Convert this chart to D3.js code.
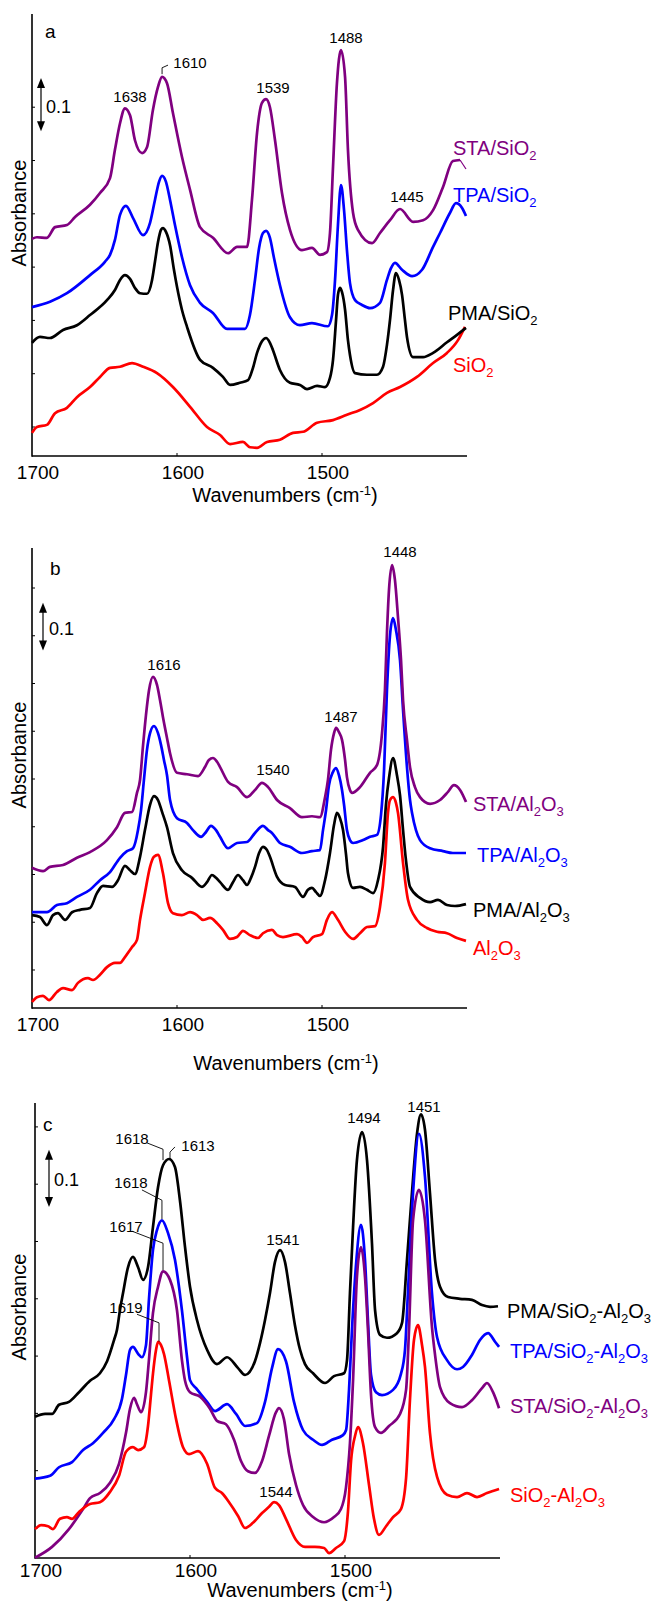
<!DOCTYPE html>
<html><head><meta charset="utf-8">
<script src="https://cdn.jsdelivr.net/npm/d3@7"></script>
<style>body{margin:0;background:#fff}svg{display:block}text{font-family:"Liberation Sans",Arial,sans-serif}</style>
</head><body>
<svg id="chart" width="658" height="1601"></svg>
<script>
// ---------------- DATA (wavenumber cm-1, absorbance) ----------------
const xTicks = [1700, 1600, 1500];
const yTicksA = [0, 0.1, 0.2, 0.3, 0.4, 0.5, 0.6];
const yTicksB = [0, 0.1, 0.2, 0.3, 0.4, 0.5, 0.6, 0.7, 0.8];
const yTicksC = [0, 0.1, 0.2, 0.3, 0.4, 0.5, 0.6, 0.7];

// Panel a
const staSiO2 = [[1700,0.353],[1696.6,0.356],[1689.7,0.355],[1684.1,0.375],[1675.9,0.379],[1670.3,0.394],[1660,0.417],[1653.1,0.439],[1646.2,0.467],[1642.8,0.520],[1639.3,0.570],[1635.9,0.598],[1632.4,0.585],[1629,0.538],[1624.1,0.514],[1620.7,0.525],[1616.6,0.595],[1613.1,0.638],[1610.3,0.657],[1606.9,0.645],[1602.8,0.589],[1596.6,0.507],[1591,0.445],[1584.1,0.375],[1575.2,0.355],[1564.8,0.326],[1558.6,0.338],[1551.7,0.338],[1548.3,0.426],[1544.8,0.552],[1541.4,0.608],[1538.6,0.615],[1535.9,0.600],[1532.4,0.538],[1527.6,0.439],[1522.1,0.370],[1513.8,0.332],[1506.9,0.336],[1501.4,0.323],[1496.6,0.328],[1494.5,0.364],[1492.4,0.488],[1489.7,0.645],[1486.9,0.707],[1484.1,0.657],[1482.1,0.520],[1478.6,0.402],[1475.2,0.370],[1465.5,0.345],[1460,0.364],[1453.1,0.388],[1446.2,0.409],[1437.2,0.385],[1430.3,0.388],[1423.4,0.407],[1416.6,0.450],[1409.7,0.499],[1404.8,0.501],[1400.7,0.484]];
const tpaSiO2 = [[1700,0.225],[1687.6,0.235],[1675.9,0.251],[1660,0.285],[1649.7,0.310],[1646.2,0.323],[1642.8,0.351],[1639.3,0.398],[1635.2,0.415],[1630.3,0.392],[1623.4,0.360],[1618.6,0.383],[1615.2,0.426],[1612.4,0.460],[1610.3,0.471],[1607.6,0.460],[1604.8,0.426],[1601.4,0.379],[1596.6,0.319],[1591,0.266],[1584.1,0.233],[1575.2,0.214],[1565.5,0.184],[1553.1,0.184],[1549.7,0.210],[1546.2,0.276],[1543.4,0.336],[1540.7,0.364],[1538.6,0.368],[1535.9,0.355],[1533.1,0.317],[1529,0.266],[1522.1,0.206],[1515.2,0.191],[1506.9,0.195],[1495.9,0.189],[1493.1,0.210],[1491,0.276],[1489,0.379],[1486.9,0.454],[1484.8,0.407],[1482.8,0.332],[1480.7,0.270],[1477.2,0.238],[1472.4,0.229],[1466.9,0.223],[1460,0.233],[1455.2,0.276],[1452.4,0.298],[1449.7,0.308],[1444.8,0.295],[1437.9,0.283],[1431,0.295],[1423.4,0.338],[1418.6,0.364],[1411.7,0.402],[1407.6,0.420],[1403.4,0.411],[1400.7,0.396]];
const pmaSiO2 = [[1700,0.158],[1694.5,0.169],[1687.6,0.167],[1678.6,0.182],[1669,0.191],[1660,0.210],[1648.3,0.238],[1642.8,0.257],[1639.3,0.276],[1635.9,0.285],[1632.4,0.278],[1629,0.261],[1625.5,0.251],[1620.7,0.250],[1617.2,0.276],[1615.2,0.310],[1613.1,0.347],[1611,0.370],[1609.7,0.373],[1607.6,0.366],[1604.8,0.341],[1602.1,0.295],[1600,0.263],[1596.6,0.220],[1593.1,0.188],[1584.1,0.126],[1575.2,0.111],[1568.3,0.094],[1563.4,0.079],[1556.6,0.083],[1551,0.088],[1547.6,0.111],[1544.8,0.139],[1541.4,0.161],[1538.6,0.167],[1535.9,0.158],[1533.8,0.144],[1529,0.107],[1522.1,0.083],[1515.2,0.079],[1510.3,0.071],[1503.4,0.077],[1497.9,0.075],[1494.5,0.092],[1492.4,0.126],[1490.3,0.201],[1489,0.248],[1487.6,0.261],[1486.2,0.253],[1484.1,0.220],[1482.1,0.163],[1480.7,0.135],[1477.2,0.101],[1469,0.098],[1462.1,0.098],[1457.9,0.113],[1455.2,0.154],[1453.1,0.201],[1451,0.257],[1449,0.289],[1446.9,0.276],[1444.8,0.248],[1442.8,0.201],[1441.4,0.169],[1437.2,0.131],[1430.3,0.131],[1423.4,0.139],[1413.8,0.159],[1406.9,0.173],[1400.7,0.186]];
const siO2 = [[1700,-0.011],[1696.6,0],[1689.7,0.004],[1684.1,0.026],[1675.9,0.036],[1669,0.056],[1660,0.075],[1653.1,0.094],[1646.2,0.111],[1639.3,0.113],[1631,0.120],[1623.4,0.113],[1613.8,0.101],[1602.8,0.075],[1591,0.038],[1579.3,0],[1570.3,-0.015],[1563.4,-0.032],[1554.5,-0.028],[1549.7,-0.038],[1544.8,-0.039],[1537.9,-0.028],[1529,-0.024],[1520,-0.011],[1513.1,-0.009],[1503.4,0.008],[1492.4,0.013],[1482.8,0.023],[1473.8,0.032],[1464.8,0.045],[1455.2,0.064],[1446.2,0.075],[1434.5,0.094],[1423.4,0.120],[1413.8,0.139],[1406.2,0.163],[1401.4,0.188]];

// Panel b
const staAl2O3 = [[1700,0.214],[1692.4,0.207],[1687.6,0.216],[1678.6,0.220],[1669,0.235],[1660,0.247],[1648.3,0.272],[1641.4,0.299],[1635.9,0.329],[1631,0.331],[1627.6,0.371],[1625.5,0.398],[1623.4,0.471],[1621.4,0.534],[1619.3,0.586],[1616.6,0.614],[1613.8,0.597],[1611.7,0.565],[1609.7,0.530],[1606.9,0.486],[1604.8,0.454],[1600,0.413],[1593.1,0.410],[1585.5,0.406],[1580.7,0.425],[1578,0.440],[1575.2,0.444],[1572.4,0.436],[1570.3,0.425],[1564.8,0.394],[1558.6,0.383],[1551.7,0.362],[1546.2,0.377],[1541.4,0.392],[1537.2,0.383],[1531,0.356],[1522.1,0.339],[1513.8,0.320],[1506.9,0.322],[1501.4,0.320],[1497.9,0.362],[1495.9,0.398],[1493.8,0.461],[1491.7,0.496],[1490.3,0.507],[1488.3,0.498],[1486.2,0.482],[1484.1,0.440],[1482.8,0.404],[1480.7,0.377],[1479.3,0.371],[1473.8,0.383],[1466.9,0.413],[1462.1,0.429],[1458.6,0.496],[1456.6,0.586],[1455.2,0.706],[1453.8,0.796],[1451.7,0.848],[1449.7,0.817],[1447.6,0.739],[1445.5,0.649],[1444.1,0.565],[1441.4,0.482],[1439.3,0.425],[1435.9,0.383],[1432.4,0.362],[1425.5,0.348],[1418.6,0.356],[1413.1,0.373],[1409,0.387],[1404.8,0.377],[1400.7,0.352]];
const tpaAl2O3 = [[1700,0.121],[1689.7,0.121],[1682.8,0.136],[1675.9,0.140],[1669,0.153],[1660,0.168],[1653.1,0.188],[1646.2,0.205],[1639.3,0.235],[1634.5,0.249],[1630.3,0.255],[1626.9,0.293],[1624.8,0.335],[1622.8,0.398],[1620.7,0.461],[1618.6,0.496],[1615.9,0.511],[1613.1,0.496],[1611,0.471],[1609,0.440],[1606.9,0.408],[1604.8,0.356],[1600,0.318],[1593.1,0.308],[1589,0.293],[1583.4,0.279],[1580,0.289],[1576.6,0.302],[1573.1,0.293],[1570.3,0.279],[1564.8,0.255],[1558.6,0.266],[1551.7,0.268],[1546.2,0.287],[1540.7,0.302],[1537.2,0.293],[1534.5,0.287],[1529,0.266],[1522.1,0.258],[1513.8,0.245],[1506.9,0.249],[1501.4,0.251],[1499.3,0.293],[1497.2,0.335],[1495.2,0.387],[1492.4,0.415],[1490.3,0.423],[1488.3,0.408],[1486.2,0.377],[1484.8,0.346],[1482.8,0.293],[1480.7,0.272],[1478.6,0.266],[1471.7,0.272],[1466.9,0.279],[1462.1,0.283],[1459.3,0.325],[1457.2,0.419],[1455.2,0.586],[1453.1,0.701],[1451,0.737],[1449,0.712],[1446.2,0.649],[1444.1,0.544],[1441.4,0.425],[1439.3,0.356],[1437.9,0.329],[1435.2,0.293],[1432.4,0.272],[1425.5,0.255],[1416.6,0.249],[1409.7,0.245],[1400.7,0.245]];
const pmaAl2O3 = [[1700,0.115],[1694.5,0.111],[1689.7,0.094],[1685.5,0.115],[1682.1,0.119],[1677.2,0.105],[1672.4,0.121],[1666.9,0.126],[1660,0.130],[1655.2,0.161],[1651,0.176],[1644.8,0.174],[1640.7,0.188],[1635.9,0.218],[1632.4,0.209],[1629,0.201],[1625.5,0.237],[1622.1,0.293],[1618.6,0.346],[1615.9,0.364],[1613.1,0.356],[1610.3,0.331],[1606.9,0.299],[1602.8,0.245],[1596.6,0.209],[1589.7,0.193],[1582.8,0.174],[1579.3,0.184],[1575.9,0.199],[1573.1,0.193],[1570.3,0.184],[1564.8,0.168],[1561.4,0.184],[1557.9,0.199],[1554.5,0.188],[1551.7,0.178],[1549,0.193],[1546.2,0.216],[1543.4,0.245],[1540.7,0.258],[1537.9,0.251],[1535.9,0.237],[1531,0.195],[1525.5,0.178],[1518.6,0.174],[1513.1,0.153],[1509.7,0.168],[1506.9,0.172],[1504.1,0.163],[1501.4,0.155],[1497.9,0.188],[1494.5,0.245],[1491.7,0.304],[1489.7,0.329],[1487.6,0.318],[1485.5,0.293],[1483.4,0.241],[1482.1,0.203],[1478.6,0.172],[1473.8,0.174],[1469,0.168],[1464.8,0.161],[1461.4,0.188],[1457.9,0.258],[1455.9,0.346],[1453.8,0.402],[1451,0.444],[1448.3,0.408],[1446.2,0.366],[1444.1,0.293],[1442.1,0.230],[1439.3,0.174],[1432.4,0.151],[1425.5,0.142],[1420,0.147],[1413.8,0.136],[1408.3,0.134],[1400.7,0.138]];
const al2O3 = [[1700,-0.067],[1696.6,-0.057],[1692.4,-0.054],[1688.3,-0.063],[1682.8,-0.046],[1678.6,-0.038],[1672.4,-0.042],[1668.3,-0.027],[1661.4,-0.017],[1657.9,-0.021],[1653.1,-0.010],[1648.3,0.006],[1642.8,0.015],[1639.3,0.015],[1635.9,0.027],[1631,0.048],[1627.6,0.063],[1625.5,0.105],[1622.1,0.161],[1618.6,0.216],[1615.9,0.237],[1613.1,0.241],[1609.7,0.203],[1606.2,0.140],[1602.8,0.119],[1596.6,0.115],[1591,0.121],[1586.2,0.115],[1582.1,0.105],[1577.2,0.109],[1572.4,0.098],[1568.3,0.084],[1563.4,0.065],[1558.6,0.069],[1554.5,0.082],[1549.7,0.073],[1544.1,0.067],[1540.7,0.077],[1534.5,0.084],[1531,0.073],[1526.9,0.069],[1517.2,0.075],[1513.8,0.069],[1510.3,0.057],[1506.2,0.069],[1500,0.075],[1496.6,0.105],[1493.1,0.121],[1489,0.105],[1484.1,0.080],[1478.6,0.065],[1473.8,0.077],[1469,0.090],[1463.4,0.092],[1460,0.132],[1456.6,0.224],[1454.5,0.329],[1453.1,0.356],[1451,0.362],[1449,0.350],[1447.6,0.329],[1444.1,0.224],[1440.7,0.147],[1434.5,0.105],[1427.6,0.088],[1420.7,0.080],[1413.8,0.077],[1406.9,0.067],[1400.7,0.061]];

// Panel c
const pmaSiAl = [[1700,0.194],[1693.5,0.199],[1689,0.199],[1684.5,0.215],[1678.1,0.220],[1671.6,0.237],[1664.5,0.257],[1658.1,0.270],[1653.5,0.291],[1649,0.328],[1647.1,0.346],[1645.2,0.380],[1643.2,0.410],[1640,0.455],[1636.8,0.473],[1633.5,0.455],[1630.3,0.433],[1627.1,0.455],[1623.9,0.525],[1620.6,0.595],[1617.4,0.633],[1613.5,0.644],[1609.7,0.630],[1606.5,0.572],[1603.2,0.490],[1600,0.421],[1595.5,0.363],[1589,0.311],[1582.6,0.286],[1576.1,0.298],[1569,0.279],[1564.5,0.267],[1558.1,0.291],[1554.8,0.323],[1551.6,0.363],[1548.4,0.410],[1545.2,0.464],[1541.9,0.485],[1538.7,0.464],[1535.5,0.410],[1532.3,0.354],[1529,0.311],[1525.8,0.286],[1520.6,0.270],[1512.9,0.253],[1507.1,0.265],[1500.6,0.270],[1498.7,0.293],[1496.8,0.410],[1494.8,0.525],[1492.3,0.642],[1489,0.691],[1485.8,0.642],[1482.6,0.497],[1480.6,0.380],[1477.4,0.337],[1472.9,0.332],[1466.5,0.340],[1463.2,0.358],[1460,0.468],[1456.8,0.585],[1453.5,0.689],[1451,0.722],[1448.4,0.695],[1445.2,0.585],[1441.9,0.468],[1438.7,0.421],[1433.5,0.403],[1425.8,0.400],[1418.1,0.398],[1411.6,0.389],[1406.4,0.386],[1401.3,0.387]];
const tpaSiAl = [[1700,0.086],[1690.3,0.091],[1684.5,0.106],[1676.1,0.115],[1669,0.136],[1662.6,0.148],[1656.1,0.166],[1649,0.190],[1643.9,0.225],[1641.3,0.267],[1638.7,0.311],[1636.8,0.316],[1633.5,0.304],[1631,0.298],[1628.4,0.319],[1626.5,0.398],[1623.9,0.485],[1621.3,0.520],[1618.1,0.537],[1614.2,0.515],[1609.7,0.468],[1605.2,0.380],[1601.9,0.298],[1600,0.258],[1596.1,0.244],[1589,0.220],[1583.9,0.204],[1576.1,0.216],[1570.3,0.199],[1564.5,0.178],[1556.8,0.183],[1551.6,0.220],[1547.1,0.279],[1543.2,0.312],[1538.1,0.291],[1532.9,0.220],[1527.1,0.171],[1520.6,0.154],[1514.8,0.145],[1508.4,0.154],[1501.3,0.162],[1499.3,0.171],[1497.4,0.241],[1495.5,0.346],[1492.9,0.459],[1489.7,0.529],[1487.1,0.468],[1485.2,0.363],[1483.2,0.267],[1480,0.237],[1476.1,0.232],[1469,0.241],[1463.9,0.269],[1461.3,0.311],[1459.4,0.410],[1456.1,0.585],[1452.3,0.688],[1448.4,0.613],[1443.9,0.410],[1440.6,0.333],[1434.2,0.293],[1427.7,0.277],[1423.9,0.281],[1418.1,0.302],[1412.9,0.328],[1407.7,0.340],[1403.2,0.325],[1400.6,0.316]];
const staSiAl = [[1700,-0.052],[1689,-0.033],[1678.1,-0.002],[1669,0.033],[1664.5,0.052],[1658.1,0.061],[1651.6,0.079],[1645.8,0.112],[1641.3,0.166],[1638.7,0.208],[1636.1,0.227],[1634.2,0.216],[1631.6,0.202],[1628.4,0.237],[1626.5,0.293],[1623.9,0.375],[1620.6,0.421],[1617.4,0.448],[1612.9,0.433],[1608.4,0.380],[1605.2,0.293],[1603.2,0.257],[1600,0.237],[1593.5,0.229],[1587.1,0.208],[1582.6,0.187],[1576.8,0.181],[1571.6,0.154],[1567.1,0.117],[1562.6,0.099],[1558.1,0.096],[1553.5,0.117],[1549,0.161],[1544.5,0.202],[1542.6,0.209],[1539.4,0.190],[1536.1,0.129],[1531.6,0.075],[1527.1,0.040],[1520.6,0.019],[1513.5,0.010],[1507.1,0.019],[1502.6,0.033],[1499.4,0.070],[1496.8,0.148],[1494.8,0.258],[1492.3,0.438],[1489.7,0.490],[1487.1,0.438],[1485.2,0.346],[1483.2,0.232],[1480.6,0.176],[1476.8,0.166],[1471.6,0.178],[1464.5,0.199],[1460.6,0.241],[1458.7,0.346],[1456.1,0.537],[1452.3,0.590],[1448.4,0.537],[1443.9,0.351],[1441.9,0.302],[1438.7,0.246],[1432.3,0.218],[1424.5,0.211],[1418.1,0.223],[1411.6,0.244],[1408.4,0.253],[1404.5,0.237],[1400.6,0.209]];
const siAl = [[1700,-0.002],[1696.1,0.005],[1691.6,0.003],[1688.4,-0.002],[1683.9,0.016],[1679.4,0.019],[1676.1,0.016],[1671.6,0.028],[1664.5,0.042],[1658.1,0.045],[1651.6,0.063],[1645.8,0.091],[1641.3,0.133],[1636.8,0.141],[1633.5,0.136],[1629.7,0.141],[1627.1,0.178],[1625.2,0.232],[1623.9,0.269],[1621.9,0.311],[1620.6,0.325],[1618.7,0.319],[1616.8,0.304],[1613.5,0.257],[1609,0.190],[1604.5,0.141],[1600.6,0.129],[1594.8,0.134],[1589,0.112],[1583.9,0.070],[1579.4,0.061],[1574.8,0.045],[1569,0.021],[1564.5,0],[1559.4,0.009],[1553.5,0.026],[1549,0.037],[1545.8,0.045],[1542.6,0.040],[1538.1,0.016],[1531.6,-0.021],[1525.8,-0.033],[1519.4,-0.033],[1513.5,-0.035],[1510.3,-0.044],[1505.8,-0.035],[1500.6,-0.023],[1498.1,0.028],[1496.1,0.117],[1493.5,0.161],[1491.6,0.176],[1488.4,0.148],[1484.5,0.075],[1481.3,0.016],[1478.1,-0.012],[1473.5,0.003],[1469,0.019],[1463.9,0.033],[1460.6,0.087],[1458.1,0.223],[1455.5,0.328],[1452.9,0.354],[1450.3,0.319],[1448.4,0.281],[1445.2,0.166],[1440.6,0.089],[1434.2,0.058],[1427.7,0.054],[1421.3,0.061],[1414.8,0.054],[1408.4,0.061],[1400.6,0.068]];

// peak leader lines (wavenumber, absorbance)
const leadersA = [[[1610.3,0.662],[1610.3,0.674],[1606.2,0.679]]];
const leadersC = [
  [[1627.7,0.672],[1617.4,0.661],[1617.4,0.642]],
  [[1612.9,0.642],[1612.9,0.656],[1609.7,0.665]],
  [[1631,0.590],[1618.1,0.572],[1618.1,0.539]],
  [[1637.4,0.518],[1617.4,0.497],[1617.4,0.450]],
  [[1634.2,0.373],[1620,0.358],[1620,0.325]]
];
// scale bar (absorbance at top of 0.1 arrow)
const scaleBarTop = {a: 0.655, b: 0.769, c: 0.660};

// ---------------- STYLE / LAYOUT ----------------
const COL = {purple:'#800080', blue:'#0000ff', black:'#000000', red:'#ff0000'};
const FONT_SERIES = 20, FONT_PEAK = 15, FONT_TICK = 19, FONT_TITLE = 20;

const panels = [
  { key:'a', xr:[32,467], yr:[456,14], yd:[-0.0544,0.7749], yTicks:yTicksA, tickDy:23,
    series:[{d:siO2,c:'red'},{d:pmaSiO2,c:'black'},{d:tpaSiO2,c:'blue'},{d:staSiO2,c:'purple',thinBelow:1404.8}],
    labels:[{p:[['STA/SiO',0],['2',1]],x:453,y:155,c:'purple'},{p:[['TPA/SiO',0],['2',1]],x:453,y:202,c:'blue'},
            {p:[['PMA/SiO',0],['2',1]],x:448,y:320,c:'black'},{p:[['SiO',0],['2',1]],x:453,y:372,c:'red'}],
    peaks:[['1638',130,102],['1610',190,68],['1539',273,93],['1488',346,43],['1445',407,202]],
    leaders:leadersA, arrowX:41, numX:46, numY:113, letter:['a',45,38],
    ylabY:213, xtitle:[285,502] },
  { key:'b', xr:[32,467], yr:[1008,548], yd:[-0.0796,0.8838], yTicks:yTicksB, tickDy:23,
    series:[{d:al2O3,c:'red'},{d:pmaAl2O3,c:'black'},{d:tpaAl2O3,c:'blue'},{d:staAl2O3,c:'purple'}],
    labels:[{p:[['STA/Al',0],['2',1],['O',0],['3',1]],x:473,y:811,c:'purple'},{p:[['TPA/Al',0],['2',1],['O',0],['3',1]],x:477,y:862,c:'blue'},
            {p:[['PMA/Al',0],['2',1],['O',0],['3',1]],x:473,y:917,c:'black'},{p:[['Al',0],['2',1],['O',0],['3',1]],x:473,y:955,c:'red'}],
    peaks:[['1616',164,670],['1540',273,775],['1487',341,722],['1448',400,557]],
    leaders:[], arrowX:43, numX:49, numY:635, letter:['b',50,575],
    ylabY:755, xtitle:[286,1070] },
  { key:'c', xr:[35,500], yr:[1558,1103], yd:[-0.0524,0.7417], yTicks:yTicksC, tickDy:19,
    series:[{d:pmaSiAl,c:'black'},{d:tpaSiAl,c:'blue'},{d:staSiAl,c:'purple'},{d:siAl,c:'red'}],
    labels:[{p:[['PMA/SiO',0],['2',1],['-Al',0],['2',1],['O',0],['3',1]],x:507,y:1318,c:'black'},
            {p:[['TPA/SiO',0],['2',1],['-Al',0],['2',1],['O',0],['3',1]],x:510,y:1358,c:'blue'},
            {p:[['STA/SiO',0],['2',1],['-Al',0],['2',1],['O',0],['3',1]],x:510,y:1413,c:'purple'},
            {p:[['SiO',0],['2',1],['-Al',0],['2',1],['O',0],['3',1]],x:510,y:1502,c:'red'}],
    peaks:[['1618',132,1144],['1613',198,1151],['1618',131,1188],['1617',126,1232],['1619',126,1313],
           ['1541',283,1245],['1494',364,1123],['1451',424,1112],['1544',276,1497]],
    leaders:leadersC, arrowX:49, numX:54, numY:1186, letter:['c',43,1131],
    ylabY:1307, xtitle:[300,1597] }
];

const svg = d3.select('#chart');
svg.append('rect').attr('width',658).attr('height',1601).attr('fill','#fff');

function rich(sel, parts, size){
  let shift = 0;
  parts.forEach(([t, s]) => {
    const target = s === 1 ? 5 : (s === -1 ? -7 : 0);
    sel.append('tspan').attr('dy', target - shift).attr('font-size', s ? size*0.65 : size).text(t);
    shift = target;
  });
}

panels.forEach(P => {
  const g = svg.append('g');
  const x = d3.scaleLinear().domain([1700,1400]).range(P.xr);
  const y = d3.scaleLinear().domain(P.yd).range(P.yr);
  const [yBot, yTop] = P.yr;
  const x0 = P.xr[0];

  // axes lines
  g.append('line').attr('x1',x0).attr('x2',x0).attr('y1',yTop).attr('y2',yBot+0.75)
    .attr('stroke','#000').attr('stroke-width',1.6);
  g.append('line').attr('x1',x0).attr('x2',x(1400)).attr('y1',yBot).attr('y2',yBot)
    .attr('stroke','#000').attr('stroke-width',1.5);
  // y ticks (inward)
  g.selectAll('.yt').data(P.yTicks).enter().append('line')
    .attr('x1',x0).attr('x2',x0+3).attr('y1',d=>y(d)).attr('y2',d=>y(d))
    .attr('stroke','#000').attr('stroke-width',1);
  // x ticks (inward) and labels
  g.selectAll('.xt').data(xTicks.slice(1)).enter().append('line')
    .attr('x1',d=>x(d)).attr('x2',d=>x(d)).attr('y1',yBot).attr('y2',yBot-3)
    .attr('stroke','#000').attr('stroke-width',1);
  g.selectAll('.xl').data(xTicks).enter().append('text')
    .attr('x',d=>x(d)+6).attr('y',yBot+P.tickDy).attr('text-anchor','middle')
    .attr('font-size',FONT_TICK).attr('fill','#000').text(d=>d);

  // x title
  const xt = g.append('text').attr('x',P.xtitle[0]).attr('y',P.xtitle[1]).attr('text-anchor','middle').attr('fill','#000');
  rich(xt, [['Wavenumbers (cm',0],['-1',-1],[')',0]], FONT_TITLE);
  // y title
  g.append('text').attr('transform',`translate(26,${P.ylabY}) rotate(-90)`).attr('text-anchor','middle')
    .attr('font-size',FONT_TITLE).attr('fill','#000').text('Absorbance');

  // panel letter
  g.append('text').attr('x',P.letter[1]).attr('y',P.letter[2]).attr('font-size',19).attr('fill','#000').text(P.letter[0]);

  // scale bar arrow 0.1
  const t = scaleBarTop[P.key];
  const ya = y(t), yb = y(t-0.1), ax = P.arrowX;
  g.append('line').attr('x1',ax).attr('x2',ax).attr('y1',ya+6).attr('y2',yb-6).attr('stroke','#000').attr('stroke-width',1.2);
  g.append('path').attr('d',`M${ax},${ya}L${ax-4},${ya+10}L${ax+4},${ya+10}Z`).attr('fill','#000');
  g.append('path').attr('d',`M${ax},${yb}L${ax-4},${yb-10}L${ax+4},${yb-10}Z`).attr('fill','#000');
  g.append('text').attr('x',P.numX).attr('y',P.numY).attr('font-size',18).attr('fill','#000').text('0.1');

  // spectra
  const line = d3.line().x(d=>x(d[0])).y(d=>y(d[1])).curve(d3.curveMonotoneX);
  P.series.forEach(s => {
    if (s.thinBelow) {
      g.append('path').datum(s.d.filter(d=>d[0]>=s.thinBelow)).attr('d',line)
        .attr('fill','none').attr('stroke',COL[s.c]).attr('stroke-width',2.7).attr('stroke-linejoin','round');
      g.append('path').datum(s.d.filter(d=>d[0]<=s.thinBelow)).attr('d',line)
        .attr('fill','none').attr('stroke',COL[s.c]).attr('stroke-width',1.2);
    } else {
      g.append('path').datum(s.d).attr('d',line)
        .attr('fill','none').attr('stroke',COL[s.c]).attr('stroke-width',2.7).attr('stroke-linejoin','round');
    }
  });

  // leaders
  const lline = d3.line().x(d=>x(d[0])).y(d=>y(d[1]));
  P.leaders.forEach(L => {
    g.append('path').attr('d',lline(L)).attr('fill','none').attr('stroke','#000').attr('stroke-width',0.9);
  });

  // peak labels
  P.peaks.forEach(([txt,px,py]) => {
    g.append('text').attr('x',px).attr('y',py).attr('text-anchor','middle')
      .attr('font-size',FONT_PEAK).attr('fill','#000').text(txt);
  });

  // series labels
  P.labels.forEach(L => {
    const tx = g.append('text').attr('x',L.x).attr('y',L.y).attr('fill',COL[L.c]);
    rich(tx, L.p, FONT_SERIES);
  });
});
</script>
</body></html>
